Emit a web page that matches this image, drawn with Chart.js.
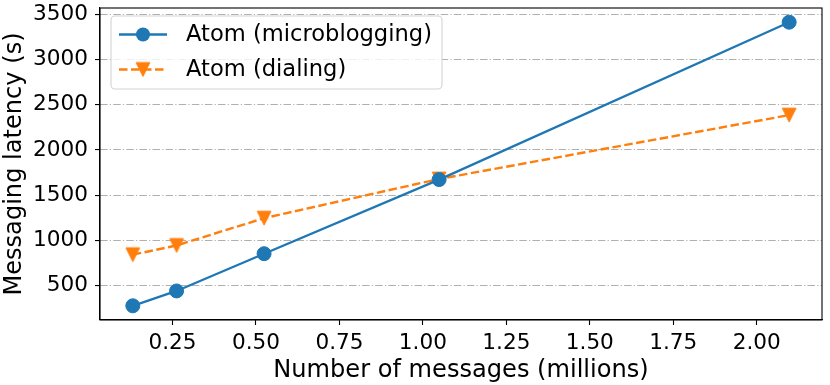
<!DOCTYPE html>
<html>
<head>
<meta charset="utf-8">
<script src="https://cdn.jsdelivr.net/npm/chart.js@4"></script>
<style>
  html, body { margin: 0; padding: 0; background: #fff; }
  #wrap { width: 830px; height: 385px; }
</style>
</head>
<body>
<div id="wrap"><canvas id="c" width="830" height="385"></canvas></div>
<script>
// messages in millions (2^17 .. 2^21)
const xMillions = [0.131072, 0.262144, 0.524288, 1.048576, 2.097152];
const microblogging = [278, 442, 854, 1673, 3413];
const dialing = [843, 945, 1247, 1680, 2386];
const xTicks = [0.25, 0.5, 0.75, 1.0, 1.25, 1.5, 1.75, 2.0];
const yTicks = [500, 1000, 1500, 2000, 2500, 3000, 3500];
const xMin = 0.0328, xMax = 2.1955;
const yMin = 121, yMax = 3570;

const BLUE = "#1f77b4", ORANGE = "#ff7f0e";
const FONT = "DejaVu Sans";
const TICK_FS = 21.6, LABEL_FS = 24.1, LEGEND_FS = 22.6;

Chart.defaults.animation = false;
Chart.defaults.font.family = FONT;
Chart.defaults.color = "#000";

// matplotlib style "v" marker
function triMarker(color) {
  const s = 18, c = document.createElement("canvas");
  c.width = s; c.height = s;
  const g = c.getContext("2d"), h = 6.9;
  g.beginPath();
  g.moveTo(s / 2 - h, s / 2 - h);
  g.lineTo(s / 2 + h, s / 2 - h);
  g.lineTo(s / 2, s / 2 + h);
  g.closePath();
  g.fillStyle = color; g.strokeStyle = color; g.lineWidth = 1;
  g.fill(); g.stroke();
  return c;
}
const tri = triMarker(ORANGE);

const pts = (ys) => ys.map((y, i) => ({ x: xMillions[i], y }));

const frame = {
  id: "frame",
  afterDraw(chart) {
    const { ctx, chartArea: a } = chart;
    ctx.save();
    ctx.strokeStyle = "#000";
    ctx.lineWidth = 1.1;
    ctx.strokeRect(a.left, a.top, a.right - a.left, a.bottom - a.top);

    // legend
    const bx = 111, by = 16, bw = 331, bh = 73;
    ctx.beginPath();
    ctx.roundRect(bx, by, bw, bh, 4);
    ctx.fillStyle = "rgba(255,255,255,0.8)";
    ctx.fill();
    ctx.strokeStyle = "#d3d3d3";
    ctx.lineWidth = 1.1;
    ctx.stroke();
    const rows = [34.5, 69.5];
    chart.data.datasets.forEach((ds, i) => {
      const y = rows[i];
      ctx.beginPath();
      ctx.setLineDash(ds.borderDash || []);
      ctx.strokeStyle = ds.borderColor;
      ctx.lineWidth = ds.borderWidth;
      ctx.moveTo(119, y); ctx.lineTo(167, y);
      ctx.stroke();
      ctx.setLineDash([]);
      if (ds.pointStyle === "circle") {
        ctx.beginPath();
        ctx.arc(143, y, 7, 0, Math.PI * 2);
        ctx.fillStyle = ds.pointBackgroundColor;
        ctx.fill();
      } else {
        ctx.drawImage(ds.pointStyle, 143 - tri.width / 2, y - tri.height / 2);
      }
      ctx.fillStyle = "#000";
      ctx.font = `${LEGEND_FS}px "${FONT}"`;
      ctx.textBaseline = "middle";
      ctx.fillText(ds.label, 186, y + 1);
    });
    ctx.restore();
  },
};

function fixBox(w, h) {
  return (s) => {
    if (w != null) s.width = w;
    if (h != null) s.height = h;
    s.paddingTop = s.paddingBottom = s.paddingLeft = s.paddingRight = 0;
  };
}

new Chart(document.getElementById("c"), {
  type: "line",
  data: {
    datasets: [
      {
        label: "Atom (microblogging)",
        data: pts(microblogging),
        borderColor: BLUE,
        borderWidth: 2.3,
        pointStyle: "circle",
        pointRadius: 7,
        pointBorderWidth: 1,
        pointBackgroundColor: BLUE,
        pointBorderColor: BLUE,
      },
      {
        label: "Atom (dialing)",
        data: pts(dialing),
        borderColor: ORANGE,
        borderWidth: 2.4,
        borderDash: [8.5, 3.5],
        pointStyle: tri,
        pointBackgroundColor: ORANGE,
      },
    ],
  },
  options: {
    responsive: false,
    layout: { padding: { top: 5, right: 6, left: 0, bottom: 0 } },
    plugins: { legend: { display: false }, tooltip: { enabled: false } },
    scales: {
      x: {
        type: "linear",
        min: xMin, max: xMax,
        afterBuildTicks: (s) => { s.ticks = xTicks.map((v) => ({ value: v })); },
        afterFit: fixBox(null, 65),
        ticks: { callback: (v) => v.toFixed(2), font: { size: TICK_FS }, padding: 5, maxRotation: 0, autoSkip: false },
        grid: { drawOnChartArea: false, tickLength: 5, tickColor: "#000", tickWidth: 1.1 },
        border: { color: "#000", width: 1.1 },
        title: { display: true, text: "Number of messages (millions)", font: { size: LABEL_FS }, padding: { top: 0, bottom: 0 } },
      },
      y: {
        type: "linear",
        min: yMin, max: yMax,
        afterBuildTicks: (s) => { s.ticks = yTicks.map((v) => ({ value: v })); },
        afterFit: fixBox(100, null),
        ticks: { callback: (v) => String(v), font: { size: TICK_FS }, padding: 7, autoSkip: false },
        grid: {
          color: "#b0b0b0", lineWidth: 1.1,
          tickLength: 5, tickColor: "#000", tickWidth: 1.1, tickBorderDash: [],
        },
        border: { color: "#000", width: 1.1, dash: [7.5, 2.2, 1.2, 2.2] },
        title: { display: true, text: "Messaging latency (s)", font: { size: LABEL_FS }, padding: { top: 0, bottom: 0 } },
      },
    },
  },
  plugins: [frame],
});
</script>
</body>
</html>
